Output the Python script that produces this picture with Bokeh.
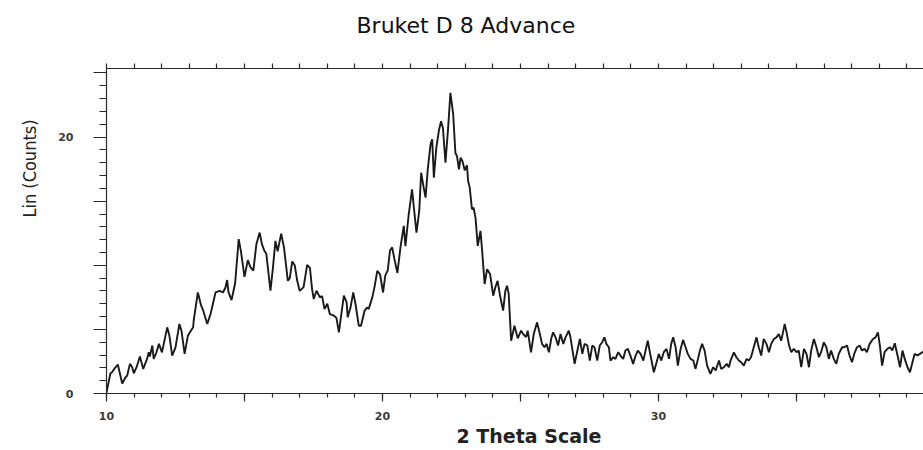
from bokeh.plotting import figure
from bokeh.models import LinearAxis, FixedTicker, Range1d, Title, NoOverlap
from bokeh.embed import file_html
from bokeh.resources import INLINE

# ---- data (2-theta in degrees, Lin counts) ----
two_theta_a = [10.00, 10.14, 10.20, 10.29, 10.41, 10.57, 10.69, 10.75, 10.85, 10.93, 10.99, 11.09,
               11.21, 11.33, 11.47, 11.53, 11.57, 11.66, 11.71, 11.81, 11.90, 12.01, 12.20, 12.28,
               12.38, 12.50, 12.64, 12.72, 12.83, 12.95, 13.00, 13.14, 13.16, 13.31, 13.43, 13.50,
               13.65, 13.77, 13.95, 14.10, 14.22, 14.31, 14.37, 14.42, 14.53, 14.66, 14.79, 14.87,
               15.00, 15.12, 15.22, 15.32, 15.43, 15.55]
counts_a = [0.08, 1.56, 1.66, 1.94, 2.26, 0.78, 1.27, 1.40, 2.31, 2.05, 1.58, 2.05,
            2.88, 1.92, 2.70, 3.21, 2.88, 3.74, 2.70, 3.21, 3.87, 3.21, 5.16, 4.50,
            2.96, 3.60, 5.42, 4.85, 3.09, 4.51, 4.70, 5.16, 5.70, 7.88, 6.85, 6.50,
            5.42, 6.20, 7.88, 8.00, 7.88, 8.27, 8.85, 7.90, 7.29, 8.60, 12.04, 11.10,
            9.10, 10.40, 9.83, 9.58, 11.65, 12.55]

two_theta_b = [15.63, 15.72, 15.79, 15.94, 16.03, 16.12, 16.20, 16.33, 16.43, 16.57, 16.64, 16.73,
               16.82, 16.91, 17.00, 17.14, 17.27, 17.37, 17.45, 17.51, 17.61, 17.73, 17.81, 17.90,
               18.00, 18.09, 18.24, 18.33, 18.42, 18.50, 18.60, 18.70, 18.74, 18.84, 18.94, 19.02,
               19.14, 19.22, 19.35, 19.44, 19.50, 19.63, 19.71, 19.81, 19.91, 20.02, 20.10, 20.19,
               20.27, 20.35, 20.43]
counts_b = [11.65, 11.13, 10.90, 8.02, 9.80, 11.90, 11.10, 12.47, 11.40, 8.79, 9.00, 10.30,
            10.00, 8.79, 8.00, 8.30, 10.04, 9.80, 8.10, 7.37, 8.02, 7.50, 7.60, 6.59,
            7.00, 6.20, 6.07, 5.90, 4.77, 6.07, 7.63, 7.10, 5.94, 6.70, 7.88, 7.00,
            5.29, 5.29, 6.46, 6.70, 6.60, 7.50, 8.30, 9.57, 9.30, 7.88, 9.20, 9.60,
            11.13, 11.40, 10.50]

two_theta_c = [20.54, 20.65, 20.77, 20.83, 20.95, 21.07, 21.13, 21.23, 21.33, 21.40, 21.48, 21.56,
               21.64, 21.74, 21.80, 21.86, 21.95, 22.04, 22.12, 22.19, 22.28, 22.37, 22.46, 22.56,
               22.64, 22.70, 22.77, 22.83, 22.90, 22.98, 23.06, 23.10, 23.16, 23.24, 23.30, 23.37,
               23.45, 23.55, 23.61, 23.70, 23.79, 23.90, 24.01, 24.09, 24.17, 24.26, 24.37, 24.45,
               24.51, 24.57, 24.66, 24.78, 24.90]
counts_c = [9.40, 11.39, 13.07, 11.50, 13.98, 15.93, 14.63, 12.55, 14.24, 17.22, 16.20, 15.28,
            17.50, 19.43, 19.82, 16.83, 19.17, 20.47, 21.24, 20.70, 18.00, 20.50, 23.45, 21.80,
            18.78, 18.50, 17.49, 18.40, 18.10, 17.40, 17.80, 16.60, 16.06, 14.37, 14.50, 13.70,
            11.52, 12.68, 11.10, 8.54, 9.70, 9.30, 7.63, 8.30, 8.79, 7.60, 6.46, 8.00,
            8.40, 7.80, 4.12, 5.29, 4.30]

two_theta_d = [25.02, 25.10, 25.20, 25.26, 25.38, 25.48, 25.60, 25.70, 25.78, 25.87, 25.94, 26.03,
               26.11, 26.18, 26.27, 26.36, 26.45, 26.55, 26.63, 26.75, 26.81, 26.96, 27.06, 27.15,
               27.24, 27.32, 27.42, 27.51, 27.60, 27.68, 27.78, 27.87, 27.96, 28.04, 28.11, 28.20,
               28.26, 28.36, 28.44, 28.54, 28.62, 28.72, 28.80, 28.89, 28.98, 29.08, 29.17, 29.25,
               29.35, 29.45, 29.53, 29.61, 29.71, 29.83, 29.93, 30.01, 30.10, 30.19, 30.29, 30.38,
               30.46, 30.53, 30.62, 30.70, 30.80, 30.89, 30.98, 31.06, 31.16, 31.26, 31.34, 31.43,
               31.50, 31.58, 31.67, 31.76, 31.88, 31.98, 32.07, 32.19, 32.27, 32.37, 32.47, 32.55]
counts_d = [4.90, 4.64, 4.40, 4.90, 3.21, 4.64, 5.55, 4.64, 3.87, 3.61, 3.87, 3.21,
            4.25, 4.77, 4.38, 3.74, 4.64, 3.87, 4.38, 4.90, 4.38, 2.31, 3.35, 4.25,
            3.09, 3.87, 3.74, 2.57, 3.74, 3.61, 2.57, 3.74, 4.00, 4.38, 3.87, 3.61,
            2.57, 2.83, 2.70, 3.22, 2.96, 2.70, 3.35, 3.48, 2.96, 2.31, 2.96, 3.35,
            3.09, 2.57, 3.35, 4.12, 2.96, 1.66, 2.44, 3.09, 2.57, 3.22, 3.48, 2.70,
            3.87, 4.38, 3.61, 2.18, 3.48, 4.18, 3.61, 3.09, 2.70, 2.57, 1.92, 2.70,
            3.35, 3.87, 3.35, 2.18, 1.53, 2.05, 1.79, 2.57, 1.92, 2.05, 2.31, 2.05]

two_theta_e = [32.61, 32.73, 32.82, 32.91, 32.99, 33.09, 33.19, 33.27, 33.35, 33.45, 33.55, 33.63,
               33.72, 33.81, 33.91, 34.00, 34.08, 34.18, 34.27, 34.36, 34.44, 34.51, 34.57, 34.64,
               34.73, 34.81, 34.90, 35.00, 35.08, 35.17, 35.27, 35.36, 35.45, 35.53, 35.63, 35.72,
               35.81, 35.89, 35.99, 36.08, 36.17, 36.25, 36.35, 36.44, 36.53, 36.65, 36.73, 36.83,
               36.92, 37.01, 37.09, 37.19, 37.29, 37.37, 37.46, 37.55, 37.65, 37.77, 37.86, 37.95,
               38.02, 38.10, 38.19, 38.29, 38.39, 38.47, 38.56, 38.66, 38.75, 38.84, 38.92, 39.02,
               39.11, 39.20, 39.28, 39.38, 39.47, 39.56, 39.62]
counts_e = [2.57, 3.21, 2.83, 2.57, 2.44, 2.18, 2.70, 2.57, 2.83, 3.61, 4.38, 3.61,
            2.96, 4.25, 3.87, 3.22, 3.87, 4.25, 4.38, 4.64, 4.12, 4.77, 5.42, 4.77,
            3.74, 3.22, 3.48, 3.22, 3.35, 2.05, 3.48, 3.09, 2.05, 3.35, 4.25, 3.61,
            2.83, 3.22, 3.99, 3.61, 2.70, 3.35, 2.70, 2.31, 3.09, 3.61, 3.61, 3.74,
            2.96, 2.44, 3.09, 3.61, 3.74, 3.35, 3.48, 3.22, 3.87, 4.25, 4.38, 4.77,
            3.74, 2.18, 3.22, 3.48, 3.61, 3.35, 3.92, 2.96, 2.05, 3.35, 2.70, 2.05,
            1.66, 2.44, 3.09, 2.96, 3.09, 3.22, 3.30]

two_theta = two_theta_a + two_theta_b + two_theta_c + two_theta_d + two_theta_e
lin_counts = counts_a + counts_b + counts_c + counts_d + counts_e

# ---- ticks (labels appear only on 10/20/30 and 0/20) ----
x_major_ticks = [10, 15, 20, 25, 30, 35, 40]
x_minor_ticks = list(range(10, 41))
y_major_ticks = [0, 5, 10, 15, 20, 25]
y_minor_ticks = list(range(0, 26))

title_text = "Bruket D 8 Advance"
x_title = "2 Theta Scale"
y_title = "Lin (Counts)"

X_MAX, Y_MAX = 39.6, 25.35

p = figure(width=923, height=450,
           x_range=Range1d(10, X_MAX), y_range=Range1d(0, Y_MAX),
           output_backend="svg", toolbar_location=None,
           min_border_left=106, min_border_right=0, min_border_top=68, min_border_bottom=57)
p.grid.visible = False
p.outline_line_color = None
p.background_fill_color = "white"
p.border_fill_color = "white"

p.line(two_theta, lin_counts, line_color="#1a1a1a", line_width=1.9)

axis_color = "#2a2a2a"
label_font = "DejaVu Sans"


def style(ax, major_out, minor_out):
    ax.axis_line_color = axis_color
    ax.axis_line_width = 1.2
    ax.major_tick_line_color = axis_color
    ax.minor_tick_line_color = axis_color
    ax.major_tick_line_width = 1.2
    ax.minor_tick_line_width = 1.2
    ax.major_tick_in = 0
    ax.minor_tick_in = 0
    ax.major_tick_out = major_out
    ax.minor_tick_out = minor_out
    ax.major_label_text_font = label_font
    ax.major_label_text_font_style = "bold"
    ax.major_label_text_font_size = "11px"
    ax.major_label_text_color = "#3c3c3c"


xa = p.xaxis[0]
xa.ticker = FixedTicker(ticks=x_major_ticks, minor_ticks=x_minor_ticks)
style(xa, 8, 4)
xa.major_label_standoff = 10
xa.major_label_policy = NoOverlap(min_distance=200)

ya = p.yaxis[0]
ya.ticker = FixedTicker(ticks=y_major_ticks, minor_ticks=y_minor_ticks)
style(ya, 13, 7)
ya.major_label_standoff = 20
ya.major_label_policy = NoOverlap(min_distance=220)

# top axis: short ticks only, no labels
top = LinearAxis(ticker=FixedTicker(ticks=[], minor_ticks=x_minor_ticks))
style(top, 5, 5)
p.add_layout(top, "above")

# invisible spacer between the top axis and the title
spacer = LinearAxis(ticker=FixedTicker(ticks=[], minor_ticks=[20]))
style(spacer, 26, 26)
spacer.axis_line_color = None
spacer.minor_tick_line_color = None
spacer.major_tick_line_color = None
p.add_layout(spacer, "above")

# texts
p.add_layout(Title(text=title_text, align="left", offset=250, standoff=0,
                   text_font=label_font, text_font_size="22px", text_font_style="normal",
                   text_color="#111111"), "above")
p.add_layout(Title(text=x_title, align="left", offset=350, standoff=1,
                   text_font=label_font, text_font_size="19px", text_font_style="bold",
                   text_color="#222222"), "below")
p.add_layout(Title(text=y_title, align="right", offset=51, standoff=32,
                   text_font="'DejaVu Sans Condensed', 'Liberation Sans', sans-serif",
                   text_font_size="18px", text_font_style="normal", text_color="#222222"), "left")

open("out.html", "w").write(file_html(p, INLINE))
